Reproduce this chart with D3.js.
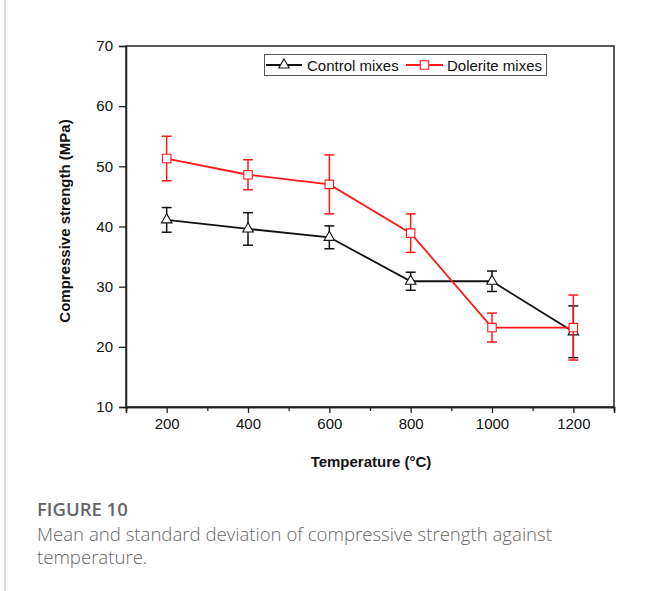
<!DOCTYPE html>
<html><head><meta charset="utf-8">
<script src="https://cdn.jsdelivr.net/npm/d3@7"></script>
<style>body{margin:0;background:#fff}svg{display:block}</style>
</head><body>
<script>
const temps = [200, 400, 600, 800, 1000, 1200];
const controlMean = [41.1, 39.6, 38.2, 30.9, 30.9, 22.5];
const controlSD   = [2.05, 2.7, 1.9, 1.5, 1.7, 4.3];
const doleriteMean = [51.3, 48.6, 47.0, 38.9, 23.2, 23.2];
const doleriteSD   = [3.7, 2.5, 4.9, 3.2, 2.4, 5.4];
const yTicks = [10, 20, 30, 40, 50, 60, 70];
const xTicks = [200, 400, 600, 800, 1000, 1200];
const xMinor = [100, 300, 500, 700, 900, 1100, 1300];

const FONT = "'Liberation Sans', Arial, Helvetica, sans-serif";
const W = 662, H = 591;
const svg = d3.select("body").append("svg").attr("width", W).attr("height", H);
const L = 126, T = 46, R = 614, B = 407;
const x = d3.scaleLinear().domain([100, 1300]).range([L, R]);
const y = d3.scaleLinear().domain([10, 70]).range([B, T]);

// figure left border
svg.append("line").attr("x1", 5).attr("x2", 5).attr("y1", 0).attr("y2", H)
  .attr("stroke", "#d0d0d0").attr("stroke-width", 1.5);

// frame
svg.append("rect").attr("x", L).attr("y", T).attr("width", R - L).attr("height", B - T)
  .attr("fill", "none").attr("stroke", "#222").attr("stroke-width", 1.5);

// axes
const yAxis = svg.append("g").attr("transform", `translate(${L},0)`)
  .call(d3.axisLeft(y).tickValues(yTicks).tickSize(7).tickPadding(6).tickFormat(d3.format("d")));
const xAxis = svg.append("g").attr("transform", `translate(0,${B})`)
  .call(d3.axisBottom(x).tickValues(xTicks).tickSize(6).tickPadding(5).tickFormat(d3.format("d")));
const xAxisMinor = svg.append("g").attr("transform", `translate(0,${B})`)
  .call(d3.axisBottom(x).tickValues(xMinor).tickSize(4).tickFormat(""));
[yAxis, xAxis, xAxisMinor].forEach(g => {
  g.attr("font-family", FONT).attr("font-size", 15);
  g.select(".domain").attr("stroke", "#222").attr("stroke-width", 1.5);
  g.selectAll(".tick line").attr("stroke", "#222").attr("stroke-width", 1.3);
  g.selectAll(".tick text").attr("fill", "#111");
});

// axis titles
svg.append("text").attr("transform", `translate(70,221) rotate(-90)`)
  .attr("text-anchor", "middle").attr("font-family", FONT)
  .attr("font-weight", "bold").attr("font-size", 15).attr("fill", "#111")
  .text("Compressive strength (MPa)");
svg.append("text").attr("x", 371).attr("y", 467)
  .attr("text-anchor", "middle").attr("font-family", FONT)
  .attr("font-weight", "bold").attr("font-size", 15).attr("fill", "#111")
  .text("Temperature (°C)");

const tri = d3.symbol().type(d3.symbolTriangle).size(48);
const sq = d3.symbol().type(d3.symbolSquare).size(72);

function drawSeries(means, sds, color, symbol) {
  const pts = temps.map((t, i) => ({t, m: means[i], s: sds[i]}));
  const g = svg.append("g");
  const eb = g.selectAll(".eb").data(pts).enter().append("g");
  eb.append("line").attr("x1", d => x(d.t)).attr("x2", d => x(d.t))
    .attr("y1", d => y(d.m - d.s)).attr("y2", d => y(d.m + d.s))
    .attr("stroke", color).attr("stroke-width", 1.5);
  [1, -1].forEach(sgn => {
    eb.append("line").attr("x1", d => x(d.t) - 5).attr("x2", d => x(d.t) + 5)
      .attr("y1", d => y(d.m + sgn * d.s)).attr("y2", d => y(d.m + sgn * d.s))
      .attr("stroke", color).attr("stroke-width", 1.5);
  });
  g.append("path").datum(pts)
    .attr("d", d3.line().x(d => x(d.t)).y(d => y(d.m)))
    .attr("fill", "none").attr("stroke", color).attr("stroke-width", 1.8);
  g.selectAll(".mk").data(pts).enter().append("path")
    .attr("transform", d => `translate(${x(d.t)},${y(d.m)})`)
    .attr("d", symbol).attr("fill", "#fff").attr("stroke", color).attr("stroke-width", 1.1);
}
drawSeries(controlMean, controlSD, "#111", tri);
drawSeries(doleriteMean, doleriteSD, "#ff1a1a", sq);

// legend
const lg = svg.append("g");
lg.append("rect").attr("x", 264.5).attr("y", 54.5).attr("width", 282).attr("height", 21)
  .attr("fill", "#fff").attr("stroke", "#555").attr("stroke-width", 1);
function legendItem(x0, x1, color, symbol, label, tx) {
  const yy = 65;
  lg.append("line").attr("x1", x0).attr("x2", x1).attr("y1", yy).attr("y2", yy)
    .attr("stroke", color).attr("stroke-width", 1.8);
  lg.append("path").attr("transform", `translate(${(x0 + x1) / 2},${yy})`).attr("d", symbol)
    .attr("fill", "#fff").attr("stroke", color).attr("stroke-width", 1.1);
  lg.append("text").attr("x", tx).attr("y", yy + 5.5).attr("font-family", FONT)
    .attr("font-size", 15).attr("fill", "#111").text(label);
}
legendItem(266, 302, "#111", tri, "Control mixes", 307);
legendItem(406, 443, "#ff1a1a", sq, "Dolerite mixes", 447);

// caption
svg.append("text").attr("x", 37).attr("y", 516).attr("font-family", "'Open Sans', sans-serif")
  .attr("font-weight", 600).attr("font-size", 18.5).attr("fill", "#666").text("FIGURE 10");
svg.append("text").attr("x", 37).attr("y", 541).attr("font-family", "'Open Sans', sans-serif")
  .attr("font-weight", 300).attr("font-size", 18.6).attr("fill", "#666")
  .text("Mean and standard deviation of compressive strength against");
svg.append("text").attr("x", 37).attr("y", 564).attr("font-family", "'Open Sans', sans-serif")
  .attr("font-weight", 300).attr("font-size", 18.6).attr("fill", "#666").text("temperature.");
</script>
</body></html>
